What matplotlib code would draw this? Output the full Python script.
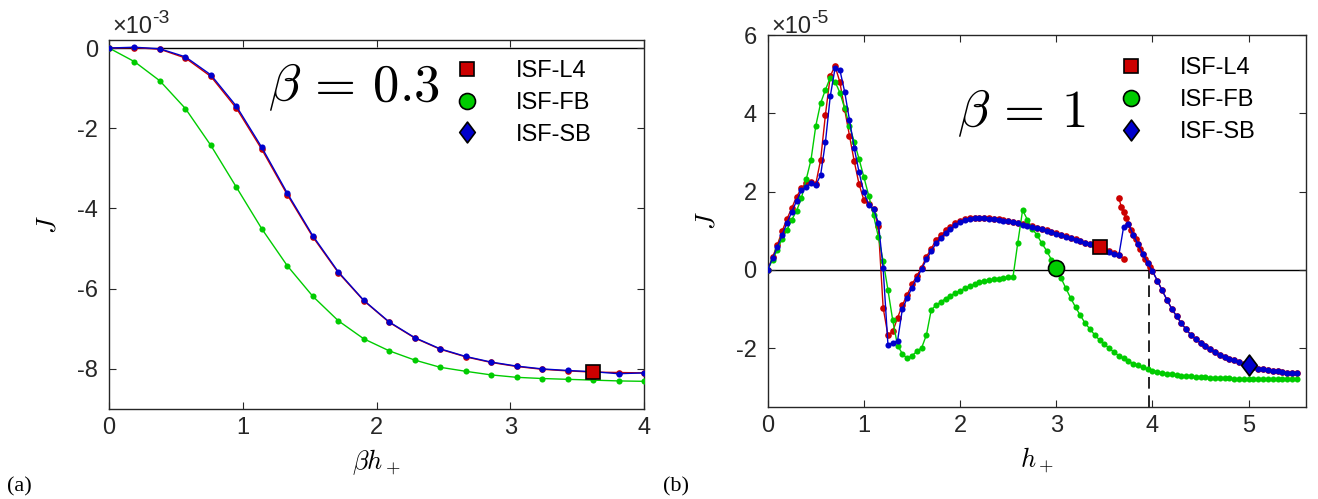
import numpy as np
import matplotlib
matplotlib.use("Agg")
import matplotlib.pyplot as plt
from matplotlib.path import Path
from matplotlib.lines import Line2D

plt.rcParams["font.family"] = ["Liberation Sans", "DejaVu Sans"]
plt.rcParams["mathtext.fontset"] = "cm"
plt.rcParams["axes.unicode_minus"] = False

# ---------------- panel (a): beta = 0.3, J in units of 1e-3 ----------------
bh_a = np.arange(22) * (4.0 / 21)
J_a_L4 = [0, 0.01, -0.03, -0.25, -0.71, -1.50, -2.53, -3.66, -4.71, -5.60, -6.30,
          -6.84, -7.23, -7.51, -7.70, -7.84, -7.94, -8.01, -8.05, -8.08, -8.09, -8.10]
J_a_FB = [0, -0.34, -0.82, -1.51, -2.43, -3.47, -4.51, -5.43, -6.19, -6.80, -7.25,
          -7.55, -7.78, -7.96, -8.06, -8.15, -8.21, -8.24, -8.26, -8.28, -8.30, -8.31]
J_a_SB = [0, 0.02, -0.02, -0.22, -0.67, -1.45, -2.48, -3.62, -4.68, -5.58, -6.29,
          -6.83, -7.22, -7.50, -7.69, -7.83, -7.93, -8.00, -8.04, -8.07, -8.12, -8.10]
mark_a_L4 = 19          # index of the highlighted ISF-L4 point

# ---------------- panel (b): beta = 1, J in units of 1e-5 ----------------
h_b = np.arange(111) * 0.05
J_b_SB = [0, 0.30, 0.58, 0.89, 1.20, 1.48, 1.76, 2.03, 2.13, 2.21,
          2.17, 2.42, 3.26, 4.43, 5.15, 5.11, 4.55, 3.83, 3.11, 2.49,
          1.98, 1.66, 1.56, 1.21, 0.04, -1.91, -1.86, -1.81, -1.00, -0.72,
          -0.45, -0.22, 0.02, 0.27, 0.48, 0.68, 0.82, 0.95, 1.05, 1.14,
          1.22, 1.27, 1.30, 1.32, 1.32, 1.32, 1.31, 1.30, 1.28, 1.26,
          1.24, 1.22, 1.19, 1.16, 1.13, 1.10, 1.07, 1.04, 1.00, 0.97,
          0.93, 0.89, 0.85, 0.81, 0.77, 0.73, 0.69, 0.65, 0.61, 0.57,
          0.52, 0.47, 0.42, 0.37, 1.10, 1.18, 0.90, 0.65, 0.41, 0.18,
          -0.03, -0.27, -0.52, -0.76, -0.99, -1.18, -1.36, -1.52, -1.66, -1.77,
          -1.86, -1.95, -2.03, -2.10, -2.16, -2.22, -2.27, -2.31, -2.35, -2.40,
          -2.44, -2.48, -2.52, -2.54, -2.56, -2.58, -2.59, -2.61, -2.62, -2.63, -2.64]
J_b_FB = [0, 0.26, 0.51, 0.80, 1.02, 1.28, 1.51, 1.83, 2.31, 2.81,
          3.68, 4.26, 4.60, 4.91, 4.81, 4.53, 4.13, 3.68, 3.27, 2.83,
          2.37, 1.90, 1.40, 0.85, 0.23, -0.51, -1.29, -1.93, -2.14, -2.26,
          -2.19, -2.08, -1.99, -1.66, -1.02, -0.90, -0.82, -0.73, -0.66, -0.59,
          -0.53, -0.47, -0.42, -0.37, -0.32, -0.29, -0.26, -0.24, -0.22, -0.20,
          -0.19, -0.18, 0.70, 1.53, 1.28, 1.05, 0.89, 0.68, 0.49, 0.26,
          0.05, -0.21, -0.47, -0.72, -0.95, -1.16, -1.36, -1.51, -1.66, -1.79,
          -1.90, -2.00, -2.10, -2.19, -2.26, -2.33, -2.39, -2.44, -2.49, -2.53,
          -2.57, -2.60, -2.63, -2.65, -2.67, -2.69, -2.70, -2.71, -2.72, -2.73,
          -2.74, -2.745, -2.75, -2.76, -2.765, -2.77, -2.77, -2.775, -2.78, -2.78,
          -2.78, -2.785, -2.785, -2.79, -2.79, -2.79, -2.79, -2.79, -2.79, -2.79, -2.79]
# ISF-L4 has two branches: the lower one on the regular grid ...
J_b_L4_low = [0, 0.32, 0.64, 0.99, 1.30, 1.58, 1.87, 2.08, 2.22, 2.24,
              2.20, 2.81, 3.96, 4.95, 5.21, 4.80, 4.10, 3.43, 2.77, 2.19,
              1.78, 1.68, 1.55, 1.11, -0.96, -1.67, -1.57, -1.22, -0.90, -0.63,
              -0.37, -0.15, 0.06, 0.34, 0.54, 0.77, 0.88, 1.01, 1.10, 1.19,
              1.25, 1.29, 1.32, 1.33, 1.33, 1.33, 1.32, 1.31, 1.29, 1.27,
              1.25, 1.23, 1.20, 1.17, 1.14, 1.11, 1.08, 1.05, 1.01, 0.98,
              0.94, 0.90, 0.86, 0.82, 0.78, 0.74, 0.70, 0.66, 0.62, 0.58,
              0.53, 0.48, 0.43, 0.38, 0.29]
# ... and the upper one, sampled more finely where it starts
h_b_L4_up = [3.65, 3.675, 3.70, 3.725, 3.75, 3.775, 3.80, 3.825, 3.85, 3.875,
             3.90, 3.925, 3.95, 3.975, 4.00] + list(h_b[81:])
J_b_L4_up = [1.84, 1.62, 1.47, 1.32, 1.18, 1.03, 0.90, 0.78, 0.65, 0.53,
             0.41, 0.29, 0.18, 0.07, -0.03,
             -0.27, -0.52, -0.76, -0.99, -1.18, -1.36, -1.52, -1.66, -1.77, -1.86,
             -1.95, -2.03, -2.10, -2.16, -2.22, -2.27, -2.31, -2.35, -2.40, -2.44,
             -2.48, -2.52, -2.54, -2.56, -2.58, -2.59, -2.61, -2.62, -2.63, -2.64]
mark_b_L4 = 69          # h = 3.45
mark_b_FB = 60          # h = 3.00
mark_b_SB = 100         # h = 5.00
h_dashed = 3.96

labels = ["ISF-L4", "ISF-FB", "ISF-SB"]
RED, GREEN, BLUE = "#cc0000", "#00cc00", "#0000cc"
AXC = "#262626"
FS = 17

diamond = Path([(0, 1), (0.75, 0), (0, -1), (-0.75, 0), (0, 1)],
               [Path.MOVETO, Path.LINETO, Path.LINETO, Path.LINETO, Path.CLOSEPOLY])
mk = {"L4": dict(marker="s", ms=10, mfc=RED),
      "FB": dict(marker="o", ms=11.5, mfc=GREEN),
      "SB": dict(marker=diamond, ms=15, mfc=BLUE)}
line_kw = dict(lw=1.0, marker="o", mew=0)

W, H = 1318, 499
fig = plt.figure(figsize=(W / 100, H / 100), dpi=100)
ax1 = fig.add_axes([109 / W, 1 - 409 / H, 535 / W, 369 / H])
ax2 = fig.add_axes([767.7 / W, 1 - 407 / H, 538.7 / W, 372 / H])


def style(ax):
    for s in ax.spines.values():
        s.set_color(AXC)
        s.set_linewidth(1.0)
    ax.tick_params(direction="in", top=True, right=True, length=5, width=0.8,
                   color=AXC, labelcolor=AXC, labelsize=FS)
    ax.tick_params(axis="x", pad=6)
    ax.tick_params(axis="y", pad=8)


def big_marker(ax, x, y, key):
    ax.plot([x], [y], linestyle="none", mec="k", mew=1.2, zorder=6, **mk[key])


def legend(ax, x, y):
    handles = [Line2D([], [], linestyle="none", mec="k", mew=1.2, **mk[k])
               for k in ("L4", "FB", "SB")]
    ax.legend(handles, labels, loc="upper left", bbox_to_anchor=(x, y),
              frameon=False, fontsize=FS, handlelength=1.0, handletextpad=1.55,
              labelspacing=0.42, borderpad=0, borderaxespad=0)


def scale_label(ax, exponent, y):
    t = ax.text(0.006, y, "\u00d710", transform=ax.transAxes, ha="left",
                va="bottom", fontsize=FS, color=AXC)
    ax.annotate(exponent, xy=(1.0, 0.52), xycoords=t, ha="left", va="bottom",
                fontsize=FS - 3, color=AXC)


# ---- (a) ----
style(ax1)
ax1.axhline(0, color="k", lw=1.0, zorder=1)
ax1.plot(bh_a, J_a_L4, color=RED, ms=4.8, zorder=3, **line_kw)
ax1.plot(bh_a, J_a_FB, color=GREEN, ms=4.4, zorder=3, **line_kw)
ax1.plot(bh_a, J_a_SB, color=BLUE, ms=4.4, zorder=4, **line_kw)
big_marker(ax1, bh_a[mark_a_L4], J_a_L4[mark_a_L4], "L4")
ax1.set_xlim(0, 4)
ax1.set_ylim(-9, 0.2)
ax1.set_xticks([0, 1, 2, 3, 4])
ax1.set_yticks([-8, -6, -4, -2, 0])
ax1.set_xlabel(r"$\beta h_+$", fontsize=19, labelpad=6)
ax1.set_ylabel(r"$J$", fontsize=19, labelpad=12)
ax1.text(0.458, 0.835, r"$\beta\,=\,0.3$", transform=ax1.transAxes, ha="center",
         va="baseline", fontsize=38)
legend(ax1, 0.648, 0.946)
scale_label(ax1, "-3", 1.005)

# ---- (b) ----
style(ax2)
ax2.axhline(0, color="k", lw=1.0, zorder=1)
ax2.plot([h_dashed, h_dashed], [-3.5, 0], color="k", lw=1.2, dashes=(7, 4), zorder=2)
ax2.plot(h_b[:len(J_b_L4_low)], J_b_L4_low, color=RED, ms=4.8, zorder=3, **line_kw)
ax2.plot(h_b_L4_up, J_b_L4_up, color=RED, ms=4.8, zorder=3, **line_kw)
ax2.plot(h_b, J_b_FB, color=GREEN, ms=4.4, zorder=3, **line_kw)
ax2.plot(h_b, J_b_SB, color=BLUE, ms=4.4, zorder=4, **line_kw)
big_marker(ax2, h_b[mark_b_L4], J_b_L4_low[mark_b_L4], "L4")
big_marker(ax2, h_b[mark_b_FB], J_b_FB[mark_b_FB], "FB")
big_marker(ax2, h_b[mark_b_SB], J_b_SB[mark_b_SB], "SB")
ax2.set_xlim(0, 5.6)
ax2.set_ylim(-3.5, 6)
ax2.set_xticks([0, 1, 2, 3, 4, 5])
ax2.set_yticks([-2, 0, 2, 4, 6])
ax2.set_xlabel(r"$h_+$", fontsize=19, labelpad=6)
ax2.set_ylabel(r"$J$", fontsize=19, labelpad=12)
ax2.text(0.472, 0.753, r"$\beta\,=\,1$", transform=ax2.transAxes, ha="center",
         va="baseline", fontsize=38)
legend(ax2, 0.6525, 0.940)
scale_label(ax2, "-5", 0.992)

fig.text(19 / W, 1 - 487 / H, "(a)", family=["Liberation Serif", "DejaVu Serif"],
         fontsize=16, ha="center", va="center")
fig.text(676 / W, 1 - 487 / H, "(b)", family=["Liberation Serif", "DejaVu Serif"],
         fontsize=16, ha="center", va="center")

fig.savefig("out.png", dpi=100)
